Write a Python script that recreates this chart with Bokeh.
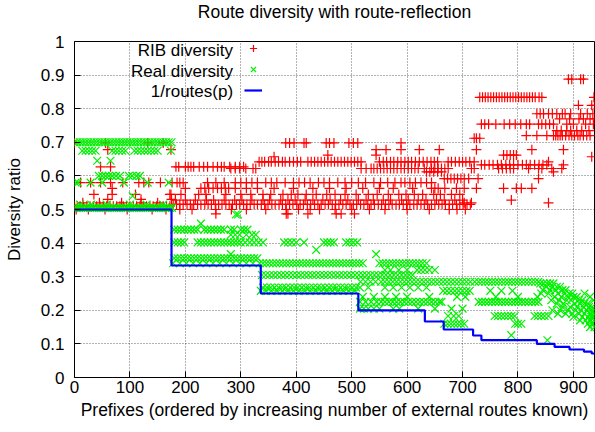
from bokeh.plotting import figure
from bokeh.models import Range1d, FixedTicker, Label, Legend, LegendItem, CustomJSTickFormatter, Title
from bokeh.core.properties import value
from bokeh.embed import file_html
from bokeh.resources import INLINE

title_text = "Route diversity with route-reflection"
x_label = "Prefixes (ordered by increasing number of external routes known)"
y_label = "Diversity ratio"
x_ticks = [0, 100, 200, 300, 400, 500, 600, 700, 800, 900]
y_ticks = [0, 0.1, 0.2, 0.3, 0.4, 0.5, 0.6, 0.7, 0.8, 0.9, 1.0]
series_names = ["RIB diversity", "Real diversity", "1/routes(p)"]

# 1/routes(p): step changes (prefix index where the number of routes increases)
routes_x = [0, 175, 336, 512, 632, 666, 719, 734, 834, 866, 893, 919, 933, 938]
routes_y = [1/2, 1/3, 1/4, 1/5, 1/6, 1/7, 1/8, 1/9, 1/10, 1/11, 1/12, 1/13, 1/14, 1/14]

# RIB diversity: (ratio, prefixes having that ratio)
rib_bands = [
    (0.51, [0, 5, 10, 16, 22, 28, 34, 40, 46, 52, 58, 64, 70, 76, 82, 88, 94, 100, 106, 112, 118, 124, 130, 136, 142, 148, 154, 160, 166, 172]),
    (0.50, [3, 25, 55, 95, 140, 165, 190, 212, 255, 283, 310, 345, 382, 404, 425, 442, 470, 500, 532, 560, 600, 640, 676, 690, 705]),
    (0.52, [15, 45, 85, 120, 150, 703, 716, 855]),
    (0.515, [178, 184, 190, 196, 203, 209, 215, 222, 228, 235, 241, 247, 254, 260, 266, 273, 279, 285, 292, 298, 305, 311, 317, 324, 330, 337, 343, 349, 356, 362, 369, 375, 381, 388, 394, 401, 407, 413, 420, 426, 433, 439, 445, 452, 458, 465, 471, 477, 484, 490, 497, 503, 509, 516, 522, 529, 535, 541, 548, 554, 561, 567, 573, 580, 586, 593, 599, 605, 612, 618, 625, 631, 637, 644, 650, 657, 663, 669, 676, 682, 689, 695, 701, 708, 714]),
    (0.528, [182, 200, 218, 238, 251, 270, 289, 302, 320, 340, 352, 372, 385, 398, 416, 430, 448, 461, 480, 493, 512, 526, 539, 557, 570, 590, 602, 620, 634, 653, 667, 686, 700, 788]),
    (0.487, [255, 382, 385, 421, 472, 481, 505]),
    (0.53, [60, 120, 175]),
    (0.545, [35, 68, 110, 172, 174, 192, 224, 237, 273, 300, 318, 340, 354, 376, 391, 403, 418, 436, 455, 470, 488, 508, 530, 546, 566, 585, 598, 613, 628, 648, 660, 680, 695]),
    (0.563, [68, 200, 228, 235, 242, 250, 258, 265, 272, 278, 290, 310, 330, 360, 395, 430, 460, 490, 520, 550, 575, 610, 644, 650, 656, 668, 689, 703, 725, 774, 797, 806, 825]),
    (0.58, [11, 29, 47, 65, 87, 116, 125, 134, 155, 176, 185, 190, 196, 240, 255, 270, 290, 300, 310, 320, 330, 345, 355, 365, 380, 395, 405, 415, 425, 440, 450, 460, 475, 488, 500, 512, 525, 540, 552, 565, 578, 589, 596, 605, 615, 625, 635, 644]),
    (0.592, [667, 673, 679, 685, 691, 697, 703, 711, 728, 837]),
    (0.612, [635, 641, 648, 655, 662, 864]),
    (0.622, [282, 290, 298, 309, 322, 327, 517, 526, 535, 540, 546, 552, 558, 564, 570, 576, 582, 589, 595, 602, 608, 614, 620, 631, 644, 650, 656, 662, 668, 674, 716, 721, 765, 772, 779, 786, 792, 819, 837, 843, 861, 879]),
    (0.627, [47, 65, 183, 188, 200, 205, 210, 215, 225, 233, 240, 250, 258, 265, 270, 280, 290, 298, 305]),
    (0.633, [734, 740, 748, 755, 763, 770, 778, 785, 792, 800, 808, 815, 822, 830, 838, 845, 852, 882]),
    (0.642, [333, 338, 343, 350, 355, 362, 368, 375, 380, 388, 395, 402, 408, 421, 427, 433, 439, 445, 451, 457, 463, 469, 475, 481, 487, 493, 499, 505, 511, 517, 550, 557, 563, 570, 576, 583, 589, 596, 602, 608, 615, 622, 629, 636, 643, 649, 655, 674, 680, 687, 694, 700, 706, 713, 721, 855]),
    (0.657, [360, 933]),
    (0.662, [457, 544, 774, 780, 786, 792, 797]),
    (0.678, [60, 174, 544, 562, 589, 622, 658, 725, 825, 882]),
    (0.698, [0, 56, 132, 160, 381, 388, 396, 414, 418, 454, 460, 468, 495, 503, 511, 589]),
    (0.712, [721, 725, 731]),
    (0.72, [815, 834, 852, 864, 868, 872, 876, 880, 886, 892, 897, 902, 908, 912, 918, 924, 930]),
    (0.735, [870, 878, 888, 895, 906, 915, 928]),
    (0.754, [734, 740, 747, 760, 775, 785, 795, 805, 815, 821, 837, 843, 850, 857, 864, 888, 900, 922, 936]),
    (0.77, [875, 893, 910, 918, 930, 938]),
    (0.785, [834, 840, 846, 855, 862, 870, 880, 885, 895, 913, 925, 935]),
    (0.81, [909, 933, 938]),
    (0.834, [731, 736, 741, 746, 751, 756, 761, 766, 771, 776, 781, 786, 791, 796, 801, 806, 811, 816, 821, 826, 831, 838, 843, 937]),
    (0.888, [891, 897, 913, 918]),
]

# Real diversity: (ratio, prefixes having that ratio)
real_bands = [
    (0.70, [0, 5, 10, 15, 20, 25, 30, 35, 40, 45, 50, 55, 60, 65, 70, 75, 80, 85, 90, 95, 100, 105, 110, 115, 120, 125, 130, 135, 140, 145, 150, 155, 160, 165, 170, 175]),
    (0.675, [14, 20, 26, 32, 38, 68, 74, 80, 86, 92, 108, 114, 120, 126, 132, 138, 144, 150, 174]),
    (0.645, [41, 65]),
    (0.60, [44, 50, 56, 62, 68, 75, 82, 98, 104, 112, 118]),
    (0.58, [2, 6, 29, 50, 89, 132, 170]),
    (0.54, [105]),
    (0.505, [0, 4, 8, 12, 16, 20, 24, 28, 32, 36, 40, 44, 48, 52, 56, 60, 64, 68, 72, 76, 80, 84, 88, 92, 96, 100, 104, 108, 112, 116, 120, 124, 128, 132, 136, 140, 144, 148, 152, 156, 160, 164, 168, 172, 176]),
    (0.515, [10, 30, 58, 100, 130, 160]),
    (0.485, [291, 295]),
    (0.458, [228]),
    (0.44, [180, 186, 192, 198, 204, 210, 216, 222, 234, 240, 246, 252, 258, 264, 270, 282, 288, 300, 306, 312]),
    (0.425, [282, 290, 298, 310, 320, 327]),
    (0.402, [180, 186, 192, 198, 222, 228, 234, 240, 246, 252, 258, 264, 270, 276, 282, 288, 294, 300, 308, 316, 324, 332, 340, 378, 385, 392, 400, 414, 450, 456, 462, 468, 490, 496, 503, 510]),
    (0.38, [436]),
    (0.367, [282, 544]),
    (0.355, [180, 186, 192, 198, 204, 210, 216, 222, 228, 234, 240, 246, 252, 258, 264, 270, 276, 282, 288, 294, 300, 306, 312, 318, 324, 330]),
    (0.34, [178, 190, 202, 214, 226, 238, 250, 262, 274, 286, 298, 310, 322, 334, 340, 346, 352, 358, 364, 370, 376, 382, 388, 394, 400, 406, 412, 418, 424, 430, 436, 442, 448, 454, 460, 466, 472, 478, 484, 490, 496, 502, 508, 514, 520, 550, 556, 562, 568, 574, 580, 586, 592, 598, 604, 610, 616, 622, 628, 635]),
    (0.32, [560, 570, 585, 600, 618, 625, 632, 640, 650]),
    (0.305, [338, 345, 352, 359, 366, 373, 380, 387, 394, 401, 408, 415, 422, 429, 436, 443, 450, 457, 464, 471, 478, 485, 492, 499, 506, 513, 520, 527, 534, 541, 548, 555, 562, 569, 576, 583, 590, 597, 604, 610]),
    (0.285, [516, 525, 534, 543, 553, 560, 567, 574, 581, 588, 595, 602, 609, 616, 623, 630, 637, 644, 651, 658, 665, 672, 679, 686, 693, 700, 707, 714, 722, 729, 735, 741, 747, 753, 759, 765, 771, 777, 783, 789, 795, 801, 807, 813, 819, 825, 831, 837]),
    (0.268, [340, 347, 354, 361, 368, 375, 382, 389, 396, 403, 410, 417, 424, 431, 438, 445, 452, 459, 466, 473, 480, 487, 494, 501, 508, 515, 530, 560, 575, 590, 605, 620, 635]),
    (0.258, [336, 345, 355, 365, 375, 385, 395, 405, 415, 425, 435, 445, 455, 465, 475, 485, 495, 505, 665, 672, 679, 686, 693, 700, 707, 713, 750, 770, 790]),
    (0.24, [520, 540, 560, 580, 600, 640, 690, 705, 760, 800, 835]),
    (0.225, [515, 525, 535, 545, 553, 560, 567, 574, 581, 588, 595, 602, 609, 616, 623, 630, 637, 644, 651, 658, 662, 729, 735, 741, 747, 753, 759, 765, 771, 777, 783, 789, 795, 801, 807, 813, 819, 825, 831, 837]),
    (0.205, [515, 522, 530, 540, 550, 575, 586, 620, 650, 680, 700]),
    (0.183, [674, 684, 693, 758, 764, 770, 776, 782, 788, 794, 830, 836, 842, 848, 855]),
    (0.16, [667, 673, 679, 685, 691, 697, 703, 795, 800, 806]),
    (0.126, [788]),
    (0.111, [853]),
    (0.28, [840, 846, 852, 858, 864]),
    (0.27, [850, 862, 870, 876]),
    (0.26, [845, 858, 868, 880, 886]),
    (0.25, [842, 855, 872, 884, 892, 898, 920]),
    (0.24, [866, 878, 890, 900, 906, 930]),
    (0.23, [860, 874, 888, 896, 910, 916, 936]),
    (0.22, [870, 882, 902, 912, 920, 926]),
    (0.21, [880, 894, 906, 918, 928, 934]),
    (0.20, [862, 876, 890, 904, 914, 924, 932, 938]),
    (0.19, [872, 886, 898, 910, 920, 930, 936]),
    (0.18, [900, 916, 926, 934, 938]),
    (0.17, [912, 922, 930, 937]),
    (0.16, [926, 934]),
    (0.15, [930, 938]),
]

rib_x = [x for y, xs in rib_bands for x in xs]
rib_y = [y for y, xs in rib_bands for x in xs]
real_x = [x for y, xs in real_bands for x in xs]
real_y = [y for y, xs in real_bands for x in xs]

FONT = "Liberation Sans"
FS = "17px"

p = figure(width=595, height=432, output_backend="svg", toolbar_location=None,
           x_range=Range1d(0, 938), y_range=Range1d(0, 1),
           min_border_left=74, min_border_right=1, min_border_top=39, min_border_bottom=55,
           title=title_text)
p.title.text_font = FONT
p.title.text_font_size = "17.5px"
p.title.text_font_style = "normal"
p.title.align = "center"
p.title.text_color = "black"
p.title.vertical_align = "top"
p.title.standoff = 2

# empty spacer panel between the title and the frame
p.add_layout(Title(text=" ", text_font_size="10px", standoff=4), "above")

p.outline_line_color = "black"
p.outline_line_width = 1
p.outline_line_alpha = 1

for ax in (p.xaxis[0], p.yaxis[0]):
    ax.axis_line_color = None
    ax.major_tick_in = 6
    ax.major_tick_out = 0
    ax.minor_tick_line_color = None
    ax.major_tick_line_color = "black"
    ax.major_label_text_font = FONT
    ax.major_label_text_font_size = FS
    ax.major_label_text_color = "black"
    ax.axis_label_text_font = FONT
    ax.axis_label_text_font_size = FS
    ax.axis_label_text_font_style = "normal"
    ax.axis_label_text_color = "black"

p.xaxis.ticker = FixedTicker(ticks=x_ticks)
p.yaxis.ticker = FixedTicker(ticks=y_ticks)
p.yaxis.formatter = CustomJSTickFormatter(code="return (Math.round(tick*10)/10).toString();")
p.xaxis.axis_label = x_label
p.yaxis.axis_label = y_label
p.xaxis.axis_label_text_font_size = "17.5px"
p.xaxis.major_label_standoff = 3
p.yaxis.major_label_standoff = 10
p.xaxis.axis_label_standoff = 4
p.yaxis.axis_label_standoff = 14

p.grid.grid_line_color = "black"
p.grid.grid_line_alpha = 0.6
p.grid.grid_line_dash = "1 2"
p.grid.grid_line_width = 1

rib_r = p.scatter(rib_x, rib_y, marker="cross", size=10, line_color="#ff0000", line_width=1.2)
real_r = p.scatter(real_x, real_y, marker="x", size=11, line_color="#00f000", line_width=1.2)
step_r = p.step(routes_x, routes_y, mode="after", line_color="#0000ff", line_width=2.2)

legend = Legend(items=[LegendItem(label=value(" "), renderers=[rib_r]),
                       LegendItem(label=value(" "), renderers=[real_r]),
                       LegendItem(label=value(" "), renderers=[step_r])],
                location=(170, 277), padding=0, margin=0, spacing=1,
                glyph_width=18, glyph_height=20, label_height=20, label_width=1,
                label_standoff=0, background_fill_alpha=0, border_line_alpha=0,
                label_text_font_size="6px")
p.add_layout(legend, "center")

label_y = [0.973, 0.911, 0.852]
for name, ly in zip(series_names, label_y):
    p.add_layout(Label(x=286, y=ly, text=name, text_align="right", text_baseline="middle",
                       text_font=FONT, text_font_size=FS, text_color="black"))

open("out.html", "w").write(file_html(p, INLINE))
